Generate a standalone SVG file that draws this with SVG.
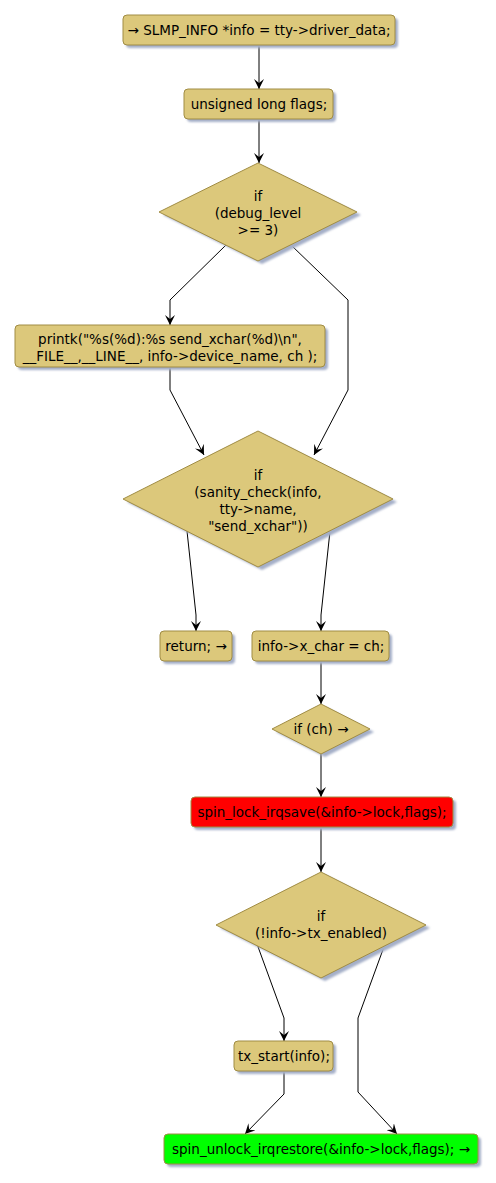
<svg xmlns="http://www.w3.org/2000/svg" width="496" height="1183" viewBox="0 0 496 1183">
<style>
.n{fill:#DCC87B;stroke:#A08C44;stroke-width:1}
.r{fill:#FF0000;stroke:#A08C44;stroke-width:1}
.g{fill:#00FF00;stroke:#A08C44;stroke-width:1}
.s{fill:#A4AFC8;filter:url(#b)}
text{font-family:"DejaVu Sans",sans-serif;font-size:13.5px;fill:#000;text-anchor:middle}
.e{fill:none;stroke:#000;stroke-width:1;marker-end:url(#a)}
</style>
<defs>
<filter id="b" x="-10%" y="-10%" width="120%" height="120%"><feGaussianBlur stdDeviation="1"/></filter>
<marker id="a" viewBox="0 0 10 10" refX="10" refY="5" markerWidth="10" markerHeight="10" markerUnits="userSpaceOnUse" orient="auto"><path d="M0,0 L10,5 L0,10 L4,5 Z" fill="#000"/></marker>
</defs>
<g id="connectors">
<path class="e" d="M259,45 V89"/>
<path class="e" d="M259,119 V163"/>
<path class="e" d="M226,245 L170,300 V325"/>
<path class="e" d="M291,245 L348,300 V390 L314,455"/>
<path class="e" d="M170,367 V390 L204,455"/>
<path class="e" d="M187,531 L196,615 V631"/>
<path class="e" d="M330,531 L321,615 V631"/>
<path class="e" d="M321,661 V704"/>
<path class="e" d="M321,753 V797"/>
<path class="e" d="M321,827 V872"/>
<path class="e" d="M257,944 L284,1018 V1041"/>
<path class="e" d="M385,944 L358,1018 V1092 L397,1134"/>
<path class="e" d="M284,1071 V1094 L245,1134"/>
</g>
<g id="n1"><rect class="s" x="126" y="18" width="272" height="30" rx="4"/><rect class="n" x="123" y="15" width="272" height="30" rx="4"/><text x="259" y="35">→ SLMP_INFO *info = tty-&gt;driver_data;</text></g>
<g id="n2"><rect class="s" x="187" y="92" width="149" height="30" rx="4"/><rect class="n" x="184" y="89" width="149" height="30" rx="4"/><text x="259" y="109">unsigned long flags;</text></g>
<g id="n3"><polygon class="s" points="262,166 361,215 262,264 163,215"/><polygon class="n" points="258,163 357,212 258,261 159,212"/><text x="258" y="201">if</text><text x="258" y="218">(debug_level</text><text x="258" y="235">&gt;= 3)</text></g>
<g id="n4"><rect class="s" x="18" y="328" width="310" height="42" rx="4"/><rect class="n" x="15" y="325" width="310" height="42" rx="4"/><text x="170" y="344">printk("%s(%d):%s send_xchar(%d)\n",</text><text x="170" y="361">__FILE__,__LINE__, info-&gt;device_name, ch );</text></g>
<g id="n5"><polygon class="s" points="262,434 397,502 262,570 127,502"/><polygon class="n" points="258,431 393,499 258,567 123,499"/><text x="258" y="480">if</text><text x="258" y="497">(sanity_check(info,</text><text x="258" y="514">tty-&gt;name,</text><text x="258" y="531">"send_xchar"))</text></g>
<g id="n6"><rect class="s" x="163" y="634" width="72" height="30" rx="4"/><rect class="n" x="160" y="631" width="72" height="30" rx="4"/><text x="196" y="651">return; →</text></g>
<g id="n7"><rect class="s" x="255" y="634" width="137" height="30" rx="4"/><rect class="n" x="252" y="631" width="137" height="30" rx="4"/><text x="321" y="651">info-&gt;x_char = ch;</text></g>
<g id="n8"><polygon class="s" points="325,707 374,732 325,757 276,732"/><polygon class="n" points="321,704 370,729 321,754 272,729"/><text x="321" y="734">if (ch) →</text></g>
<g id="n9"><rect class="s" x="194" y="800" width="262" height="30" rx="4"/><rect class="r" x="191" y="797" width="262" height="30" rx="4"/><text x="322" y="817">spin_lock_irqsave(&amp;info-&gt;lock,flags);</text></g>
<g id="n10"><polygon class="s" points="325,875 430,928 325,981 220,928"/><polygon class="n" points="321,872 426,925 321,978 216,925"/><text x="321" y="921">if</text><text x="321" y="938">(!info-&gt;tx_enabled)</text></g>
<g id="n11"><rect class="s" x="237" y="1044" width="99" height="30" rx="4"/><rect class="n" x="234" y="1041" width="99" height="30" rx="4"/><text x="284" y="1061">tx_start(info);</text></g>
<g id="n12"><rect class="s" x="167" y="1137" width="314" height="30" rx="4"/><rect class="g" x="164" y="1134" width="314" height="30" rx="4"/><text x="321" y="1154">spin_unlock_irqrestore(&amp;info-&gt;lock,flags); →</text></g>
</svg>
